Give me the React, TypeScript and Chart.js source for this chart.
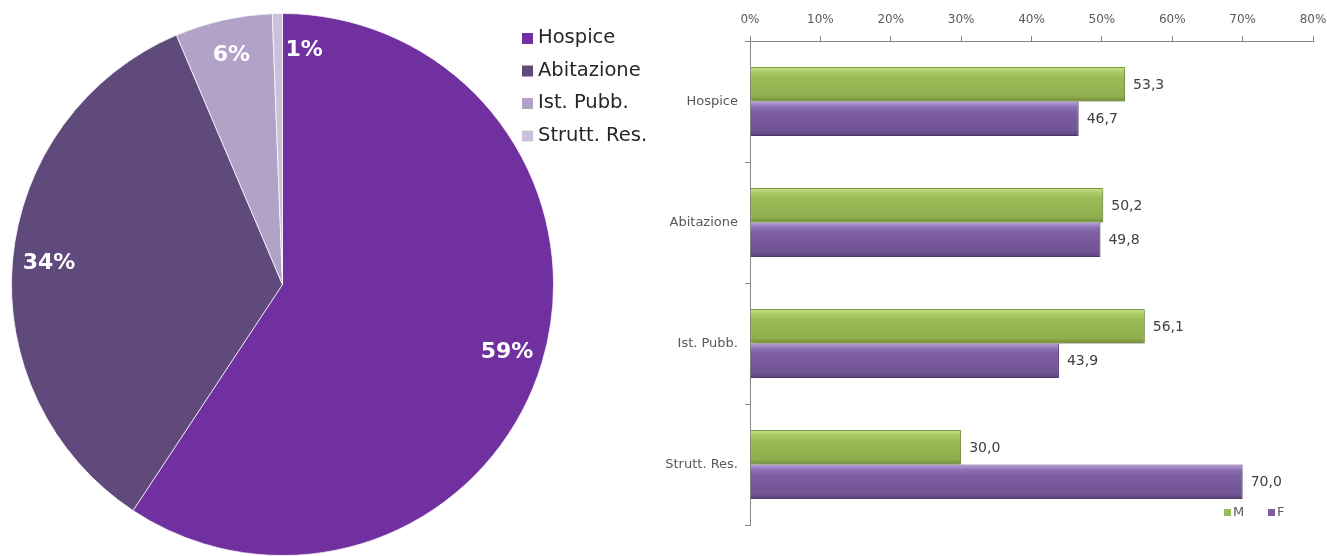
import React, { useEffect, useRef } from 'react';
import { Chart, registerables } from 'chart.js';

Chart.register(...registerables);

// ---- Pie data ----
const pieLabels = ['Hospice', 'Abitazione', 'Ist. Pubb.', 'Strutt. Res.'];
const pieValues = [59.3, 34.3, 5.8, 0.6];
const pieColors = ['#7030A0', '#604A7B', '#B3A2C7', '#CCC1DA'];

// ---- Bar data ----
const barCategories = ['Hospice', 'Abitazione', 'Ist. Pubb.', 'Strutt. Res.'];
const maleValues = [53.3, 50.2, 56.1, 30.0];
const femaleValues = [46.7, 49.8, 43.9, 70.0];
const seriesNames = ['M', 'F'];
const xMin = 0;
const xMax = 80;
const xStep = 10;

const FONT = '"DejaVu Sans", sans-serif';

const pieLabelPlugin = {
  id: 'pieLabels',
  afterDatasetsDraw(chart: any) {
    const ctx = chart.ctx;
    const meta = chart.getDatasetMeta(0);
    const values: number[] = chart.data.datasets[0].data;
    const total = values.reduce((a, b) => a + b, 0);
    ctx.save();
    ctx.fillStyle = '#ffffff';
    ctx.font = `bold 22px ${FONT}`;
    ctx.textBaseline = 'middle';
    meta.data.forEach((arc: any, i: number) => {
      const p = arc.getProps(['x', 'y', 'startAngle', 'endAngle', 'outerRadius'], true);
      const mid = (p.startAngle + p.endAngle) / 2;
      const frac = values[i] / total;
      const r = p.outerRadius * 0.865;
      let lx = p.x + Math.cos(mid) * r;
      let ly = p.y + Math.sin(mid) * r;
      const txt = Math.round(frac * 100) + '%';
      if (frac < 0.02) {
        ctx.textAlign = 'left';
        lx = p.x + 3;
      } else {
        ctx.textAlign = 'center';
      }
      ctx.fillText(txt, lx, ly);
    });
    ctx.restore();
  },
  afterDraw(chart: any) {
    const ctx = chart.ctx;
    const ca = chart.chartArea;
    const x0 = ca.right - 32;
    const y0 = 38;
    const step = 32.5;
    ctx.save();
    ctx.font = `19.5px ${FONT}`;
    ctx.textBaseline = 'middle';
    ctx.textAlign = 'left';
    chart.data.labels.forEach((lab: string, i: number) => {
      const y = y0 + i * step;
      ctx.fillStyle = chart.data.datasets[0].backgroundColor[i];
      ctx.fillRect(x0, y - 5, 11, 11);
      ctx.fillStyle = '#262626';
      ctx.fillText(lab, x0 + 16, y);
    });
    ctx.restore();
  },
};

const barStyles = [
  { stops: ['#C9E290', '#ADCB68', '#9BBB59', '#8FAE4D', '#6F8A36'], border: '#7D9B3E', legend: '#9BBB59' },
  { stops: ['#BBA2DC', '#9074B8', '#7D5EA2', '#715494', '#564077'], border: '#5E4684', legend: '#7D5EA2' },
];

const barPlugin = {
  id: 'barDecor',
  beforeDatasetsDraw(chart: any) {
    const ctx = chart.ctx;
    chart.data.datasets.forEach((ds: any, di: number) => {
      const meta = chart.getDatasetMeta(di);
      const st = barStyles[di];
      meta.data.forEach((el: any) => {
        const p = el.getProps(['y', 'height'], true);
        const top = p.y - p.height / 2;
        const g = ctx.createLinearGradient(0, top, 0, top + p.height);
        g.addColorStop(0, st.stops[0]);
        g.addColorStop(0.14, st.stops[1]);
        g.addColorStop(0.3, st.stops[2]);
        g.addColorStop(0.85, st.stops[3]);
        g.addColorStop(1, st.stops[4]);
        el.options = { ...el.options, backgroundColor: g };
      });
    });
  },
  beforeDatasetDraw(chart: any) {
    const ctx = chart.ctx;
    ctx.save();
    ctx.shadowColor = 'rgba(0,0,0,0.28)';
    ctx.shadowBlur = 3;
    ctx.shadowOffsetX = 1;
    ctx.shadowOffsetY = 2;
  },
  afterDatasetDraw(chart: any) {
    chart.ctx.restore();
  },
  afterDatasetsDraw(chart: any) {
    const ctx = chart.ctx;
    ctx.save();
    ctx.font = `14px ${FONT}`;
    ctx.fillStyle = '#404040';
    ctx.textAlign = 'left';
    ctx.textBaseline = 'middle';
    chart.data.datasets.forEach((ds: any, di: number) => {
      const meta = chart.getDatasetMeta(di);
      meta.data.forEach((el: any, i: number) => {
        const p = el.getProps(['x', 'y'], true);
        const v: number = ds.data[i];
        ctx.fillText(v.toFixed(1).replace('.', ','), p.x + 8, p.y + 1);
      });
    });
    // legend
    const ca = chart.chartArea;
    ctx.font = `13px ${FONT}`;
    const ly = ca.bottom - 13;
    const positions = [ca.right - 89, ca.right - 45];
    chart.data.datasets.forEach((ds: any, di: number) => {
      const x = positions[di];
      ctx.fillStyle = barStyles[di].legend;
      ctx.fillRect(x, ly - 3, 7, 7);
      ctx.fillStyle = '#595959';
      ctx.fillText(ds.label, x + 9, ly + 1);
    });
    ctx.restore();
  },
};

export default function App() {
  const pieRef = useRef<HTMLCanvasElement>(null);
  const barRef = useRef<HTMLCanvasElement>(null);

  useEffect(() => {
    const pie = new Chart(pieRef.current!, {
      type: 'pie',
      data: {
        labels: pieLabels,
        datasets: [
          {
            data: pieValues,
            backgroundColor: pieColors,
            borderColor: 'rgba(255,255,255,0.7)',
            borderWidth: 1,
          },
        ],
      },
      options: {
        responsive: false,
        animation: false,
        layout: { padding: { left: 11, top: 13, right: 106, bottom: 0 } },
        plugins: { legend: { display: false }, tooltip: { enabled: false } },
      },
      plugins: [pieLabelPlugin],
    });

    const bar = new Chart(barRef.current!, {
      type: 'bar',
      data: {
        labels: barCategories,
        datasets: [
          {
            label: seriesNames[0],
            data: maleValues,
            backgroundColor: '#9BBB59',
            borderColor: barStyles[0].border,
            borderWidth: 1,
            categoryPercentage: 0.57,
            barPercentage: 1.0,
          },
          {
            label: seriesNames[1],
            data: femaleValues,
            backgroundColor: '#7D5EA2',
            borderColor: barStyles[1].border,
            borderWidth: 1,
            categoryPercentage: 0.57,
            barPercentage: 1.0,
          },
        ],
      },
      options: {
        indexAxis: 'y',
        responsive: false,
        animation: false,
        layout: { padding: { left: 0, top: 0, right: 14, bottom: 31 } },
        plugins: { legend: { display: false }, tooltip: { enabled: false } },
        scales: {
          x: {
            position: 'top',
            min: xMin,
            max: xMax,
            ticks: {
              stepSize: xStep,
              callback: (v: any) => v + '%',
              font: { family: FONT, size: 12 },
              color: '#595959',
              padding: 9,
              maxRotation: 0,
            },
            grid: { drawOnChartArea: false, drawTicks: true, tickLength: 5, color: '#868686' },
            border: { display: true, color: '#868686', width: 1 },
            afterFit: (s: any) => {
              s.height = 41;
              s.paddingLeft = 0;
              s.paddingRight = 0;
            },
          },
          y: {
            ticks: {
              font: { family: FONT, size: 13 },
              color: '#595959',
              padding: 7,
            },
            grid: { drawOnChartArea: false, drawTicks: true, tickLength: 5, color: '#868686', offset: true },
            border: { display: true, color: '#868686', width: 1 },
            afterFit: (s: any) => {
              s.width = 95;
              s.paddingTop = 0;
              s.paddingBottom = 0;
            },
          },
        },
      },
      plugins: [barPlugin],
    });

    return () => {
      pie.destroy();
      bar.destroy();
    };
  }, []);

  return (
    <div style={{ position: 'absolute', left: 0, top: 0, width: 1327, height: 556, background: '#fff' }}>
      <canvas
        ref={pieRef}
        width={660}
        height={556}
        style={{ position: 'absolute', left: 0, top: 0, width: 660, height: 556 }}
      />
      <canvas
        ref={barRef}
        width={672}
        height={556}
        style={{ position: 'absolute', left: 655, top: 0, width: 672, height: 556 }}
      />
    </div>
  );
}
